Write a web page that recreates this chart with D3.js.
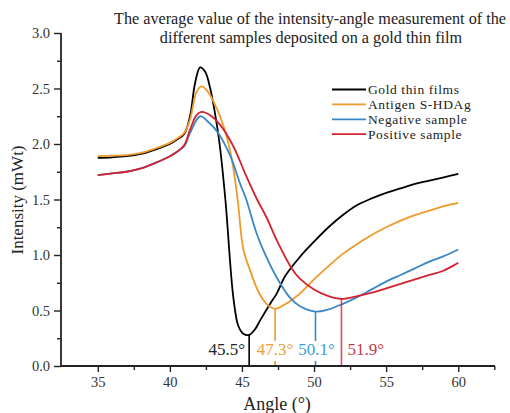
<!DOCTYPE html>
<html lang="en">
  <head>
    <meta charset="utf-8">
    <title>Intensity-angle</title>
    <script src="https://cdn.jsdelivr.net/npm/d3@7"></script>
    <style>
      body { margin: 0; background: #fff; }
      text { font-family: "Liberation Serif", "Times New Roman", serif; }
    </style>
  </head>
  <body>
    <script>
      // Data
      var goldAngle = [35, 36, 37, 38, 39, 40, 40.5, 41, 41.4, 41.75, 42.1, 42.45, 42.8, 43.1, 43.45, 43.85, 44.4, 44.75, 45.1, 45.5, 45.9, 46.3, 47, 47.4, 48, 49, 50, 51, 52, 53, 54, 55, 56, 57, 58, 59, 60];
      var goldValue = [1.875, 1.88, 1.89, 1.91, 1.95, 2.0, 2.04, 2.09, 2.25, 2.55, 2.69, 2.65, 2.5, 2.3, 2.0, 1.5, 0.62, 0.36, 0.29, 0.28, 0.33, 0.42, 0.57, 0.65, 0.81, 0.98, 1.12, 1.25, 1.36, 1.45, 1.51, 1.56, 1.6, 1.64, 1.67, 1.7, 1.73];

      var antigenAngle = [35, 36, 37, 38, 39, 40, 40.5, 41, 41.4, 41.85, 42.2, 42.65, 43.25, 43.8, 44.3, 44.7, 45.1, 45.6, 46.1, 46.7, 47.3, 47.9, 48.5, 49, 50, 51, 52, 53, 54, 55, 56, 57, 58, 59, 60];
      var antigenValue = [1.89, 1.895, 1.9, 1.92, 1.96, 2.01, 2.05, 2.1, 2.22, 2.47, 2.52, 2.47, 2.32, 2.13, 1.86, 1.5, 1.05, 0.85, 0.68, 0.56, 0.515, 0.55, 0.6, 0.65, 0.78, 0.9, 1.01, 1.1, 1.18, 1.25, 1.31, 1.36, 1.4, 1.44, 1.47];

      var negativeAngle = [35, 36, 37, 38, 39, 40, 40.5, 41, 41.4, 42.1, 42.65, 43.35, 44.2, 44.85, 45.3, 46, 46.7, 47.4, 48.3, 49, 50.1, 51, 52, 53, 54, 55, 56, 57, 58, 59, 60];
      var negativeValue = [1.72, 1.735, 1.75, 1.78, 1.83, 1.89, 1.93, 1.98, 2.1, 2.25, 2.2, 2.1, 1.89, 1.65, 1.5, 1.2, 0.98, 0.8, 0.62, 0.54, 0.49, 0.51, 0.56, 0.62, 0.69, 0.76, 0.82, 0.88, 0.94, 0.99, 1.05];

      var positiveAngle = [35, 36, 37, 38, 39, 40, 40.5, 41, 41.4, 41.85, 42.2, 42.8, 43.5, 44.4, 45.3, 46.05, 46.7, 47.5, 48.5, 49, 50, 51, 51.9, 53, 54, 55, 56, 57, 58, 59, 60];
      var positiveValue = [1.72, 1.735, 1.75, 1.78, 1.83, 1.89, 1.93, 1.99, 2.13, 2.26, 2.29, 2.26, 2.17, 1.98, 1.71, 1.5, 1.34, 1.11, 0.87, 0.79, 0.69, 0.63, 0.605, 0.63, 0.66, 0.7, 0.74, 0.78, 0.82, 0.86, 0.93];

      var seriesNames = ["Gold thin films", "Antigen S-HDAg", "Negative sample", "Positive sample"];
      var seriesColors = ["#000000", "#f09a2a", "#3b87c6", "#d3222f"];
      var labelColors = ["#222222", "#eba03c", "#3a9fd2", "#c23a45"];

      // resonance minima
      var minAngles = [45.5, 47.3, 50.1, 51.9];
      var minValues = [0.28, 0.515, 0.49, 0.605];
      var minLabels = ["45.5°", "47.3°", "50.1°", "51.9°"];

      var xTicks = [35, 40, 45, 50, 55, 60];
      var yTicks = [0.0, 0.5, 1.0, 1.5, 2.0, 2.5, 3.0];

      var series = [
        d3.zip(goldAngle, goldValue),
        d3.zip(antigenAngle, antigenValue),
        d3.zip(negativeAngle, negativeValue),
        d3.zip(positiveAngle, positiveValue)
      ];

      var serif = '"Liberation Serif", "Times New Roman", serif';
      var width = 510, height = 413;
      var svg = d3.select("body").append("svg")
                  .attr("width", width)
                  .attr("height", height);

      var x = d3.scaleLinear().domain([32.45, 62.55]).range([61, 495]);
      var y = d3.scaleLinear().domain([0, 3]).range([366, 33]);

      var line = d3.line()
                   .x(function(d) { return x(d[0]); })
                   .y(function(d) { return y(d[1]); })
                   .curve(d3.curveCatmullRom.alpha(0.5));

      // curves
      svg.selectAll("path.curve")
        .data(series)
        .enter()
        .append("path")
        .attr("class", "curve")
        .attr("d", line)
        .attr("fill", "none")
        .attr("stroke", function(d, i) { return seriesColors[i]; })
        .attr("stroke-width", 1.8);

      // vertical markers at the minima
      svg.selectAll("line.marker")
        .data(minAngles)
        .enter()
        .append("line")
        .attr("class", "marker")
        .attr("x1", function(d) { return x(d); })
        .attr("x2", function(d) { return x(d); })
        .attr("y1", function(d, i) { return y(minValues[i]); })
        .attr("y2", y(0))
        .attr("stroke", function(d, i) { return seriesColors[i]; })
        .attr("stroke-opacity", function(d, i) { return i == 3 ? 0.8 : 1; })
        .attr("stroke-width", 1.6);

      // labels (the middle two sit over their line on a white patch)
      var labelY = y(0.1);
      var anchors = ["end", "middle", "middle", "start"];
      var offsets = [-4, 0, 1, 6];
      var labels = svg.selectAll("g.minlabel")
        .data(minAngles)
        .enter()
        .append("g")
        .attr("class", "minlabel");
      labels.filter(function(d, i) { return i == 1 || i == 2; })
        .append("rect")
        .attr("x", function(d) { return x(d) - 20; })
        .attr("y", labelY - 14)
        .attr("width", 40)
        .attr("height", 20)
        .attr("fill", "#fff");
      labels.append("text")
        .attr("x", function(d, i) { return x(d) + offsets[i]; })
        .attr("y", labelY)
        .attr("text-anchor", function(d, i) { return anchors[i]; })
        .style("font-family", serif)
        .attr("font-size", "17px")
        .attr("fill", function(d, i) { return labelColors[i]; })
        .text(function(d, i) { return minLabels[i]; });

      // axes
      var xAxis = svg.append("g")
        .attr("transform", "translate(0," + y(0) + ")")
        .call(d3.axisBottom(x).tickValues(xTicks).tickSize(6).tickPadding(5)
              .tickFormat(d3.format("d")));
      var xMinor = svg.append("g")
        .attr("transform", "translate(0," + y(0) + ")")
        .call(d3.axisBottom(x).tickValues([37.5, 42.5, 47.5, 52.5, 57.5, 62.5]).tickSize(4).tickFormat(""));
      var yAxis = svg.append("g")
        .attr("transform", "translate(" + x.range()[0] + ",0)")
        .call(d3.axisLeft(y).tickValues(yTicks).tickSize(7).tickPadding(4)
              .tickFormat(d3.format(".1f")));
      var yMinor = svg.append("g")
        .attr("transform", "translate(" + x.range()[0] + ",0)")
        .call(d3.axisLeft(y).tickValues([0.25, 0.75, 1.25, 1.75, 2.25, 2.75]).tickSize(4).tickFormat(""));

      [xAxis, xMinor, yAxis, yMinor].forEach(function(g) {
        g.attr("font-family", serif);
        g.select(".domain").attr("stroke", "#222").attr("stroke-width", 1.8);
        g.selectAll(".tick line").attr("stroke", "#222").attr("stroke-width", 1.4);
        g.selectAll(".tick text")
          .style("font-family", serif)
          .attr("font-size", "14.5px")
          .attr("fill", "#333");
      });
      // keep axis lines flush with the end ticks
      xAxis.select(".domain").attr("d", "M" + x.range()[0] + ",0H" + x.range()[1]);
      xMinor.select(".domain").remove();
      yAxis.select(".domain").attr("d", "M0," + y.range()[0] + "V" + y.range()[1]);
      yMinor.select(".domain").remove();

      // axis titles
      svg.append("text")
        .attr("x", 277)
        .attr("y", 410)
        .attr("text-anchor", "middle")
        .style("font-family", serif)
        .attr("font-size", "18px")
        .attr("fill", "#222")
        .text("Angle (°)");
      svg.append("text")
        .attr("transform", "translate(23,200) rotate(-90)")
        .attr("text-anchor", "middle")
        .style("font-family", serif)
        .attr("font-size", "17px")
        .attr("fill", "#222")
        .text("Intensity (mWt)");

      // title
      var title = svg.append("text")
        .attr("text-anchor", "middle")
        .style("font-family", serif)
        .attr("font-size", "16.2px")
        .attr("fill", "#222");
      title.append("tspan").attr("x", 310).attr("y", 24)
        .text("The average value of the intensity-angle measurement of the");
      title.append("tspan").attr("x", 311).attr("y", 43)
        .text("different samples deposited on a gold thin film");

      // legend
      var legend = svg.selectAll("g.legend")
        .data(seriesNames)
        .enter()
        .append("g")
        .attr("class", "legend")
        .attr("transform", function(d, i) { return "translate(332," + (89.5 + i * 14.9) + ")"; });
      legend.append("line")
        .attr("x1", 0).attr("x2", 34)
        .attr("stroke", function(d, i) { return seriesColors[i]; })
        .attr("stroke-width", 1.8);
      legend.append("text")
        .attr("x", 36)
        .attr("y", 4.6)
        .style("font-family", serif)
        .style("letter-spacing", "0.6px")
        .attr("font-size", "13.5px")
        .attr("fill", "#222")
        .text(function(d) { return d; });
    </script>
  </body>
</html>
